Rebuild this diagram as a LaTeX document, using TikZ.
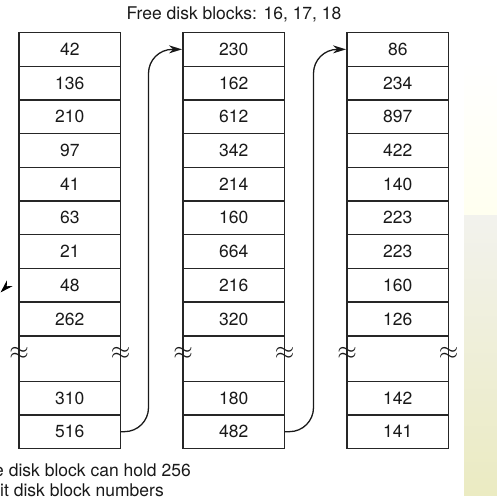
\documentclass[tikz,border=0pt]{standalone}
\usepackage{fontspec}
\setmainfont{TeX Gyre Heros}
\usepackage{tikz}
\usetikzlibrary{arrows.meta, positioning}
\newcommand{\blockfont}{\fontsize{17.5pt}{21pt}\selectfont}

\begin{document}
\begin{tikzpicture}[>={Stealth[length=13pt,width=8pt]}, x=1pt, y=-1pt,
    every node/.style={font=\blockfont, text=black!90},
    cell/.style={draw=cellborder, line width=1.4pt, minimum width=101.5pt, inner sep=0pt, outer sep=0pt},
    brk/.style={inner sep=0pt, scale=1.45, yshift=3.5pt},
    link/.style={->, draw=black!90, line width=1.3pt, rounded corners=24pt, shorten >=1pt}]
      \colorlet{cellborder}{black!85}
      \colorlet{bgpale}{yellow!6!white} \colorlet{bgolive}{olive!20!gray!10!white}
      \useasboundingbox (0,0) rectangle (497,501);
      % photo edge at the right
      \shade[top color=white, bottom color=bgpale] (464,60) rectangle (497,215);
      \shade[top color=bgolive, bottom color=olive!16!white] (464,215) rectangle (497,495);
      \node[anchor=base] (title) at (234,19) {Free disk blocks: 16, 17, 18};
      % the three blocks of the list
      \foreach \c/\xl/\upper/\lower in {1/19/{42,136,210,97,41,63,21,48,262}/{310,516},
                                        2/183/{230,162,612,342,214,160,664,216,320}/{180,482},
                                        3/347/{86,234,897,422,140,223,223,160,126}/{142,141}} {
        \foreach \v [count=\r] in \upper
          \node[cell, minimum height=33.7pt] (c\c r\r) at (\xl+50.75, 33.7*\r+15.65) {\v};
        \node[cell, minimum height=45.9pt] (c\c gap) at (\xl+50.75, 358.75) {};
        \foreach \v [count=\r from 11] in \lower
          \node[cell, minimum height=33.3pt] (c\c r\r) at (\xl+50.75, 33.3*\r+32.05) {\v};
        \node[brk] (c\c wl) at (c\c gap.west) {$\approx$};
        \node[brk] (c\c wr) at (c\c gap.east) {$\approx$};
      }
      \draw[link] (c1r12.east) -- ++(28,0) |- (c2r1.west);
      \draw[link] (c2r12.east) -- ++(29,0) |- (c3r1.west);
      % cut-off pointer and note on the left
      \coordinate (ptrtail) at (7,286);
      \coordinate (ptrtip) at (0.5,292.5);
      \draw[->, line width=1.2pt] (ptrtail) -- (ptrtip);
      \node[anchor=base west, inner sep=0pt] (note1) at (-6,476.5) {e disk block can hold 256};
      \node[anchor=base west, inner sep=0pt] (note2) at (0,496.5) {it disk block numbers};
    \end{tikzpicture}
\end{document}
